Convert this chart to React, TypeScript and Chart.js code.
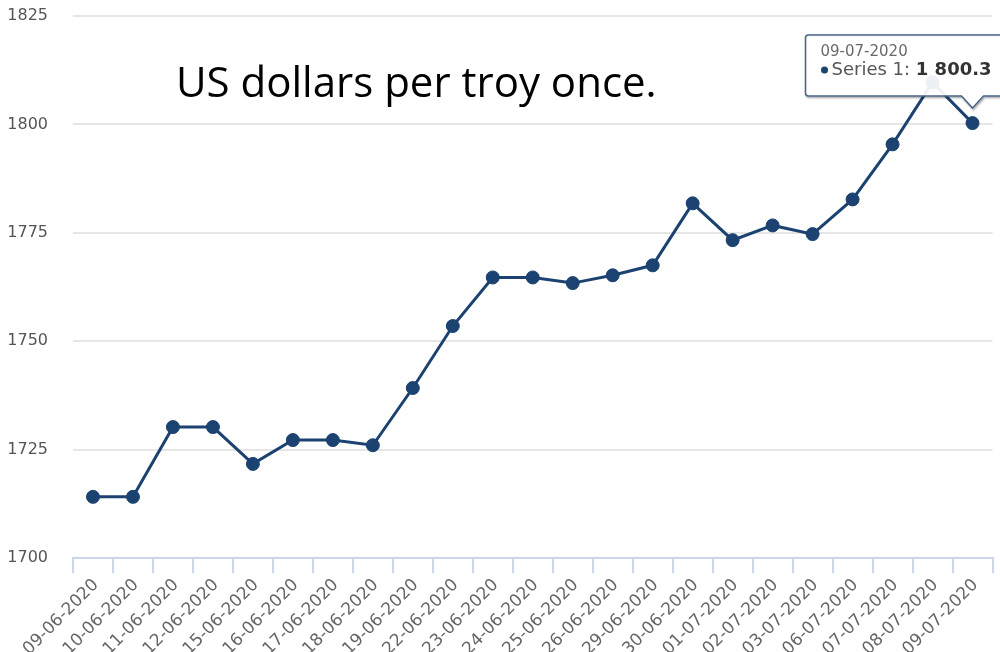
import React, { useEffect, useRef } from 'react';
import { Chart, registerables } from 'chart.js';

Chart.register(...registerables);

const dates = [
  '09-06-2020', '10-06-2020', '11-06-2020', '12-06-2020', '15-06-2020', '16-06-2020',
  '17-06-2020', '18-06-2020', '19-06-2020', '22-06-2020', '23-06-2020', '24-06-2020',
  '25-06-2020', '26-06-2020', '29-06-2020', '30-06-2020', '01-07-2020', '02-07-2020',
  '03-07-2020', '06-07-2020', '07-07-2020', '08-07-2020', '09-07-2020',
];

const goldPrices = [
  1714.1, 1714.1, 1730.2, 1730.2, 1721.7, 1727.2,
  1727.2, 1726.0, 1739.2, 1753.5, 1764.7, 1764.7,
  1763.4, 1765.2, 1767.5, 1781.8, 1773.3, 1776.7,
  1774.7, 1782.7, 1795.4, 1809.7, 1800.3,
];

const yMin = 1700;
const yMax = 1825;
const yStep = 25;
const seriesName = 'Series 1';
const titleText = 'US dollars per troy once.';
const tooltipIndex = 22;

const LINE = '#1b4270';
const FONT = '"DejaVu Sans", Verdana, sans-serif';

function formatValue(v: number): string {
  const [i, d] = v.toFixed(1).split('.');
  return i.replace(/\B(?=(\d{3})+(?!\d))/g, ' ') + '.' + d;
}

function tooltipPath(ctx: CanvasRenderingContext2D, x: number, y: number) {
  const left = x - 167;
  const top = y - 88;
  const bottom = y - 27;
  const right = x + 60;
  const tipY = y - 15;
  const cw = 11;
  const r = 3;
  ctx.beginPath();
  ctx.moveTo(left + r, top);
  ctx.lineTo(right, top);
  ctx.lineTo(right, bottom);
  ctx.lineTo(x + cw, bottom);
  ctx.lineTo(x, tipY);
  ctx.lineTo(x - cw, bottom);
  ctx.lineTo(left + r, bottom);
  ctx.quadraticCurveTo(left, bottom, left, bottom - r);
  ctx.lineTo(left, top + r);
  ctx.quadraticCurveTo(left, top, left + r, top);
  ctx.closePath();
}

const fixedTooltip = {
  id: 'fixedTooltip',
  afterDraw(chart: any) {
    const meta = chart.getDatasetMeta(0);
    const pt = meta.data[tooltipIndex];
    if (!pt) return;
    const x = pt.x;
    const y = pt.y;
    const ctx = chart.ctx as CanvasRenderingContext2D;
    ctx.save();
    ctx.save();
    ctx.translate(1, 1);
    tooltipPath(ctx, x, y);
    ctx.strokeStyle = 'rgba(0,0,0,0.06)';
    ctx.lineWidth = 5;
    ctx.stroke();
    ctx.strokeStyle = 'rgba(0,0,0,0.12)';
    ctx.lineWidth = 3;
    ctx.stroke();
    ctx.strokeStyle = 'rgba(0,0,0,0.18)';
    ctx.lineWidth = 1;
    ctx.stroke();
    ctx.restore();

    tooltipPath(ctx, x, y);
    ctx.fillStyle = 'rgba(255,255,255,0.92)';
    ctx.fill();
    ctx.strokeStyle = '#4a6688';
    ctx.lineWidth = 1.5;
    ctx.stroke();

    ctx.textAlign = 'left';
    ctx.textBaseline = 'alphabetic';
    ctx.font = '15px ' + FONT;
    ctx.fillStyle = '#6a6a6a';
    ctx.fillText(dates[tooltipIndex], x - 152, y - 67);

    ctx.beginPath();
    ctx.arc(x - 148, y - 53, 3.5, 0, Math.PI * 2);
    ctx.fillStyle = LINE;
    ctx.fill();

    ctx.font = '18px ' + FONT;
    ctx.fillStyle = '#555';
    const s = seriesName + ': ';
    ctx.fillText(s, x - 141, y - 48);
    const w = ctx.measureText(s).width;
    ctx.font = 'bold 18px ' + FONT;
    ctx.fillStyle = '#333';
    ctx.fillText(formatValue(goldPrices[tooltipIndex]), x - 141 + w, y - 48);
    ctx.restore();
  },
};

export default function App() {
  const canvasRef = useRef<HTMLCanvasElement | null>(null);

  useEffect(() => {
    if (!canvasRef.current) return;
    const chart = new Chart(canvasRef.current, {
      type: 'line',
      data: {
        labels: dates,
        datasets: [
          {
            label: seriesName,
            data: goldPrices,
            borderColor: LINE,
            backgroundColor: LINE,
            borderWidth: 3,
            pointRadius: 6.5,
            pointBackgroundColor: LINE,
            pointBorderColor: LINE,
            pointBorderWidth: 1,
            tension: 0,
            fill: false,
          },
        ],
      },
      options: {
        animation: false,
        responsive: true,
        maintainAspectRatio: false,
        layout: { padding: { top: 16, right: 6, left: 0, bottom: 0 } },
        plugins: {
          legend: { display: false },
          title: { display: false },
          tooltip: { enabled: false },
        },
        events: [],
        scales: {
          x: {
            offset: true,
            grid: {
              display: true,
              offset: true,
              drawOnChartArea: false,
              drawTicks: true,
              tickLength: 15,
              color: '#ccd6eb',
              lineWidth: 2,
            },
            border: { display: true, color: '#ccd6eb', width: 2 },
            ticks: {
              autoSkip: false,
              maxRotation: 45,
              minRotation: 45,
              padding: 2,
              labelOffset: 3,
              color: '#666',
              font: { family: FONT, size: 17 },
            },
            afterFit(scale: any) {
              scale.height = 94;
              scale.paddingLeft = 0;
              scale.paddingRight = 0;
            },
          },
          y: {
            min: yMin,
            max: yMax,
            grid: {
              color: '#e6e6e6',
              lineWidth: 2,
              drawTicks: false,
            },
            border: { display: false },
            ticks: {
              stepSize: yStep,
              padding: 25,
              color: '#555',
              font: { family: FONT, size: 16 },
              callback: (v: any) => String(v),
            },
            afterFit(scale: any) {
              scale.width = 73;
              scale.paddingTop = 0;
              scale.paddingBottom = 0;
            },
          },
        },
      },
      plugins: [fixedTooltip],
    });
    return () => chart.destroy();
  }, []);

  return (
    <div style={{ position: 'fixed', left: 0, top: 0, width: 1000, height: 652, background: '#fff', overflow: 'hidden' }}>
      <canvas ref={canvasRef} />
      <div
        style={{
          position: 'absolute',
          left: 176,
          top: 60,
          fontFamily: '"Open Sans", sans-serif',
          fontSize: 42,
          lineHeight: '42px',
          color: '#000',
          whiteSpace: 'nowrap',
          pointerEvents: 'none',
        }}
      >
        {titleText}
      </div>
    </div>
  );
}
